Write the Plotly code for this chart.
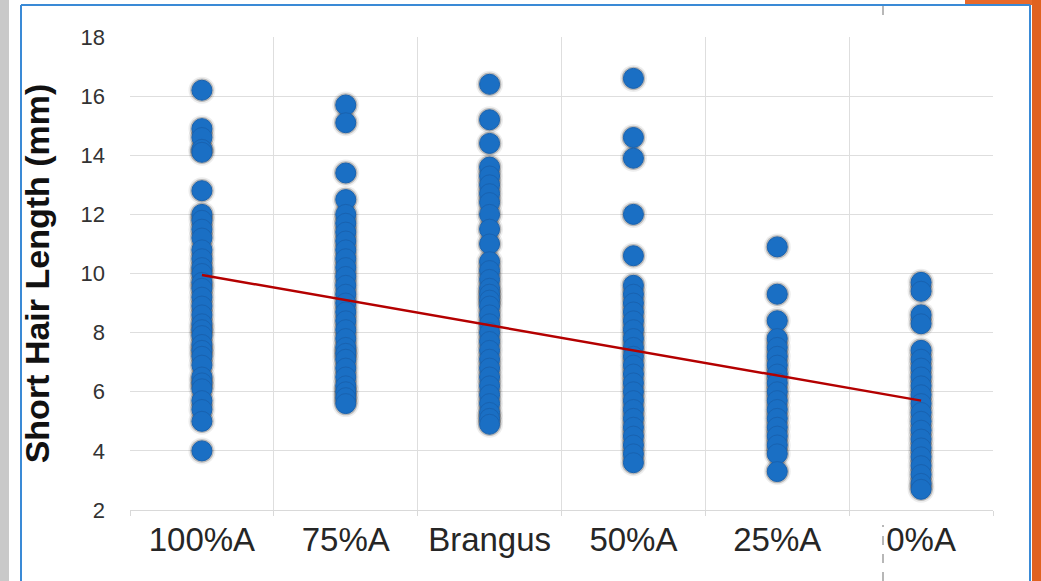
import plotly.graph_objects as go

categories = ["100%A", "75%A", "Brangus", "50%A", "25%A", "0%A"]

hair_100A = [16.2, 14.9, 14.6, 14.2, 14.1, 12.8, 12.0, 11.8, 11.5, 11.2, 10.8, 10.5, 10.2, 10.0,
             9.7, 9.5, 9.2, 8.9, 8.6, 8.3, 8.1, 7.9, 7.6, 7.4, 7.2, 6.9, 6.5, 6.3, 6.1,
             5.7, 5.4, 5.0, 4.0]
hair_75A = [15.7, 15.1, 13.4, 12.5, 12.0, 11.7, 11.4, 11.1, 10.8, 10.5, 10.2, 9.9, 9.6, 9.3,
            9.0, 8.7, 8.4, 8.1, 7.8, 7.5, 7.3, 7.1, 6.8, 6.5, 6.2, 6.0, 5.8, 5.6]
hair_brangus = [16.4, 15.2, 14.4, 13.6, 13.3, 13.0, 12.7, 12.4, 12.0, 11.5, 11.0, 10.4, 10.1,
                9.8, 9.5, 9.3, 9.1, 8.9, 8.6, 8.3, 8.0, 7.7, 7.4, 7.1, 6.8, 6.5, 6.2, 5.9,
                5.6, 5.3, 5.1, 4.9]
hair_50A = [16.6, 14.6, 13.9, 12.0, 10.6, 9.6, 9.3, 9.0, 8.7, 8.4, 8.1, 7.8, 7.5, 7.2, 6.9,
            6.6, 6.3, 6.0, 5.7, 5.4, 5.1, 4.8, 4.5, 4.2, 3.9, 3.6]
hair_25A = [10.9, 9.3, 8.4, 7.8, 7.5, 7.2, 6.9, 6.6, 6.3, 6.0, 5.7, 5.4, 5.1, 4.8, 4.5, 4.2,
            3.9, 3.3]
hair_0A = [9.7, 9.4, 8.6, 8.3, 7.4, 7.1, 6.8, 6.5, 6.2, 5.9, 5.6, 5.3, 5.0, 4.7, 4.4, 4.1,
           3.8, 3.5, 3.2, 2.9, 2.7]

trend_x = ["100%A", "0%A"]
trend_y = [9.95, 5.70]

y_ticks = [2, 4, 6, 8, 10, 12, 14, 16, 18]

series = [hair_100A, hair_75A, hair_brangus, hair_50A, hair_25A, hair_0A]
xs, ys = [], []
for cat, vals in zip(categories, series):
    xs += [cat] * len(vals)
    ys += vals

fig = go.Figure()
# soft shadow halo (two layers to mimic blur)
fig.add_trace(go.Scatter(x=xs, y=ys, mode="markers", hoverinfo="skip",
                         marker=dict(size=27, color="rgba(0,0,0,0.07)", line=dict(width=0)),
                         showlegend=False))
fig.add_trace(go.Scatter(x=xs, y=ys, mode="markers", hoverinfo="skip",
                         marker=dict(size=23.5, color="rgba(0,0,0,0.22)", line=dict(width=0)),
                         showlegend=False))
fig.add_trace(go.Scatter(x=xs, y=ys, mode="markers",
                         marker=dict(size=20, color="#1a6fc4", line=dict(width=1, color="#1862b0")),
                         showlegend=False))
fig.add_trace(go.Scatter(x=trend_x, y=trend_y, mode="lines",
                         line=dict(color="#b40000", width=2.5), showlegend=False))

# page decorations (pixel -> paper coords)
L, R, T, B = 130, 993, 37, 510
W, H = R - L, B - T
def px(x):
    return (x - L) / W
def py(y):
    return (B - y) / H

shapes = [
    dict(type="rect", xref="paper", yref="paper", x0=px(0), x1=px(9), y0=py(581), y1=py(0),
         fillcolor="#c9c9c9", line=dict(width=0), layer="below"),
    dict(type="rect", xref="paper", yref="paper", x0=px(965), x1=px(1041), y0=py(5), y1=py(0),
         fillcolor="#e8692a", line=dict(width=0), layer="below"),
    dict(type="rect", xref="paper", yref="paper", x0=px(1032), x1=px(1041), y0=py(581), y1=py(0),
         fillcolor="#e0621f", line=dict(width=0), layer="below"),
    dict(type="line", xref="paper", yref="paper", x0=px(883), x1=px(883), y0=py(15), y1=py(0),
         line=dict(color="#a0a0a0", width=1.5, dash="dash")),
    dict(type="line", xref="paper", yref="paper", x0=px(883), x1=px(883), y0=py(581), y1=py(525),
         line=dict(color="#a0a0a0", width=1.5, dash="dash")),
    # blue slide frame
    dict(type="line", xref="paper", yref="paper", x0=px(21), x1=px(21), y0=py(581), y1=py(5),
         line=dict(color="#3a8ad6", width=2)),
    dict(type="line", xref="paper", yref="paper", x0=px(21), x1=px(1030), y0=py(5), y1=py(5),
         line=dict(color="#3a8ad6", width=2)),
    dict(type="line", xref="paper", yref="paper", x0=px(1030), x1=px(1030), y0=py(581), y1=py(5),
         line=dict(color="#3a8ad6", width=2)),
]

fig.update_layout(
    width=1041, height=581,
    margin=dict(l=L, r=1041 - R, t=T, b=581 - B),
    paper_bgcolor="white", plot_bgcolor="white",
    shapes=shapes,
    xaxis=dict(type="category", categoryorder="array", categoryarray=categories,
               tickson="boundaries", showgrid=True, gridcolor="#dedede", gridwidth=1,
               showline=True, linecolor="#d9d9d9", linewidth=1,
               ticks="outside", ticklen=5, tickcolor="#d9d9d9",
               tickfont=dict(family="Liberation Sans, Arial", size=33, color="#262626"),
               range=[-0.5, 5.5], zeroline=False),
    yaxis=dict(range=[2, 18], tickvals=y_ticks, showgrid=True, gridcolor="#dedede",
               gridwidth=1, zeroline=False, showline=False,
               ticks="", ticklabelstandoff=24,
               tickfont=dict(family="Liberation Sans, Arial", size=22, color="#333333"),
               title=dict(text="<b>Short Hair Length (mm)</b>", standoff=20,
                          font=dict(family="Liberation Sans, Arial", size=34, color="#111111"))),
)

fig.write_html("out.html")
